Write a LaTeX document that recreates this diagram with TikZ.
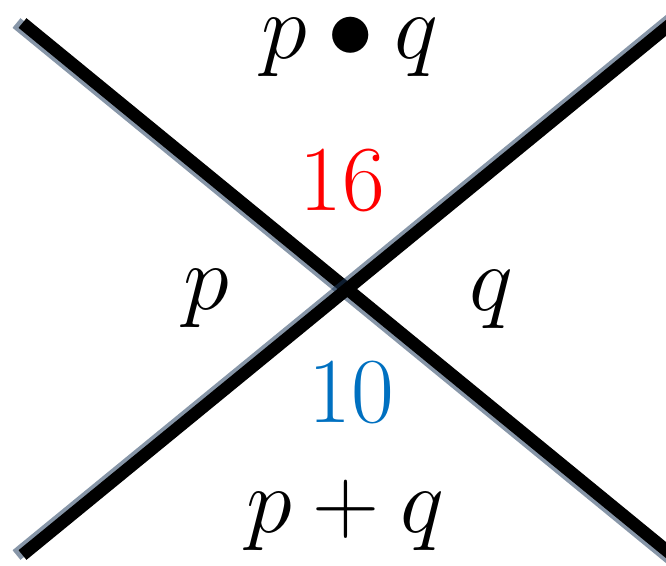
\RequirePackage{fix-cm}
\documentclass[tikz,border=0pt]{standalone}
\usepackage{amsmath}
\usepackage{tikz}
\definecolor{shadowcol}{HTML}{1C385A}
\definecolor{hicolor}{HTML}{FF0000}
\definecolor{locolor}{HTML}{0070C0}

\begin{document}
\begin{tikzpicture}[x=1pt, y=-1pt,
    bar/.style={line width=12.5pt, black},
    barshade/.style={line width=12.5pt, shadowcol, opacity=0.53},
    lbl/.style={font=\fontsize{93}{100}\selectfont, inner sep=0pt, anchor=base},
]
  \useasboundingbox (0,0) rectangle (666,565);
  \clip (0,0) rectangle (666,565);

  % === End points of the two bars ===
  \coordinate (a1) at (22.5, 23);
  \coordinate (a2) at (705, 582);
  \coordinate (b1) at (22.5, 555);
  \coordinate (b2) at (705, -4);

  % === Bars with their shadows ===
  \draw[barshade] ([xshift=-6pt]a1) -- ([xshift=-6pt]a2);
  \draw[bar] (a1) -- (a2);
  \draw[barshade] ([xshift=-6pt]b1) -- ([xshift=-6pt]b2);
  \draw[bar] (b1) -- (b2);

  % === Labels ===
  \node[lbl] (prod) at (350, 58) {$p \bullet q$};
  \node[lbl] (sum) at (345, 532) {$p + q$};
  \node[lbl] (lp) at (206, 309) {$p$};
  \node[lbl] (rq) at (491, 310) {$q$};
  \node[lbl, hicolor] (hi) at (342, 210) {16};
  \node[lbl, locolor] (lo) at (351, 422) {10};
\end{tikzpicture}
\end{document}
